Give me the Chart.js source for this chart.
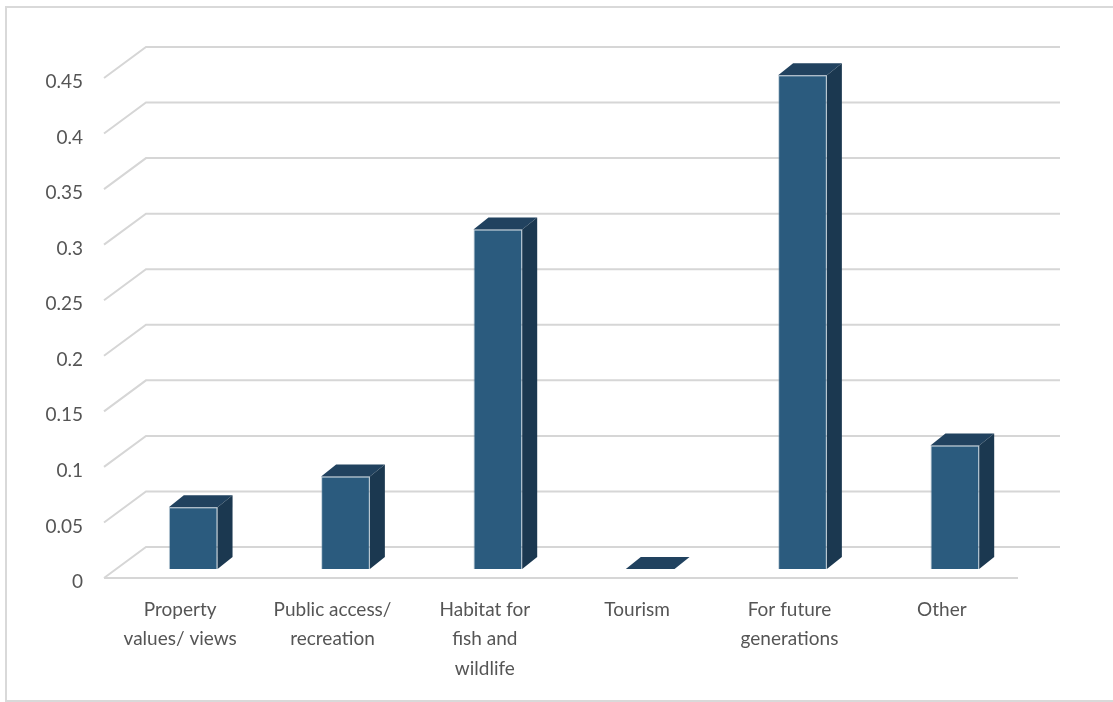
<!DOCTYPE html>
<html>
<head>
<meta charset="utf-8">
<script src="https://cdn.jsdelivr.net/npm/chart.js@4/dist/chart.umd.min.js"></script>
<style>
	html, body { margin: 0; padding: 0; background: #fff; }
	canvas { display: block; }
</style>
</head>
<body>
<canvas id="chart" width="1113" height="702"></canvas>
<script>
// data
const categories = [
	['Property', 'values/ views'],
	['Public access/', 'recreation'],
	['Habitat for', 'fish and', 'wildlife'],
	['Tourism'],
	['For future', 'generations'],
	['Other'],
]
const shares = [0.0556, 0.0833, 0.3056, 0, 0.4444, 0.1111]
const yTicks = ['0', '0.05', '0.1', '0.15', '0.2', '0.25', '0.3', '0.35', '0.4', '0.45']

// 3d look
const wallDepth = { dx: 42, dy: -31 }
const barShift = { dx: 13, dy: -9 }
const barDepth = { dx: 15, dy: -12 }
const gridColor = '#d6d6d6'

const frame = {
	id: 'frame',
	beforeDraw(chart) {
		const ctx = chart.ctx
		ctx.save()
		ctx.strokeStyle = '#d9d9d9'
		ctx.lineWidth = 2
		ctx.beginPath()
		ctx.moveTo(1113, 7)
		ctx.lineTo(6, 7)
		ctx.lineTo(6, 701)
		ctx.lineTo(1113, 701)
		ctx.stroke()
		ctx.restore()
	},
}

const walls = {
	id: 'walls',
	beforeDatasetsDraw(chart) {
		const ctx = chart.ctx
		const area = chart.chartArea
		const y = chart.scales.y
		ctx.save()
		ctx.strokeStyle = gridColor
		ctx.lineWidth = 2
		y.ticks.forEach((t) => {
			const py = y.getPixelForValue(t.value)
			ctx.beginPath()
			ctx.moveTo(area.left, py)
			ctx.lineTo(area.left + wallDepth.dx, py + wallDepth.dy)
			ctx.lineTo(area.right + wallDepth.dx, py + wallDepth.dy)
			ctx.stroke()
		})
		ctx.beginPath()
		ctx.moveTo(area.left, area.bottom)
		ctx.lineTo(area.right, area.bottom)
		ctx.stroke()
		ctx.restore()
		ctx.save()
		ctx.translate(barShift.dx, barShift.dy)
	},
	afterDatasetsDraw(chart) {
		const ctx = chart.ctx
		const meta = chart.getDatasetMeta(0)
		meta.data.forEach((bar) => {
			const l = bar.x - bar.width / 2
			const r = bar.x + bar.width / 2
			const t = bar.y
			const b = bar.base
			ctx.fillStyle = '#21425f'
			ctx.beginPath()
			ctx.moveTo(l, t)
			ctx.lineTo(r, t)
			ctx.lineTo(r + barDepth.dx, t + barDepth.dy)
			ctx.lineTo(l + barDepth.dx, t + barDepth.dy)
			ctx.closePath()
			ctx.fill()
			if (b - t > 0.5) {
				ctx.fillStyle = '#1b3850'
				ctx.beginPath()
				ctx.moveTo(r, t)
				ctx.lineTo(r + barDepth.dx, t + barDepth.dy)
				ctx.lineTo(r + barDepth.dx, b + barDepth.dy)
				ctx.lineTo(r, b)
				ctx.closePath()
				ctx.fill()
			}
		})
		ctx.restore()
	},
}

const config = {
	type: 'bar',
	data: {
		labels: categories,
		datasets: [{
			data: shares,
			backgroundColor: '#2b5b7e',
			borderColor: 'rgba(120, 150, 175, 0.45)',
			borderWidth: 1,
			categoryPercentage: 1,
			barPercentage: 0.32,
			clip: false,
		}],
	},
	options: {
		responsive: false,
		animation: false,
		events: [],
		layout: {
			padding: { top: 78, right: 95, left: 0, bottom: 0 },
		},
		plugins: {
			legend: { display: false },
			tooltip: { enabled: false },
		},
		scales: {
			x: {
				grid: { display: false, drawTicks: false },
				border: { display: false },
				ticks: {
					color: '#555555',
					font: { family: 'Lato', size: 19, lineHeight: 1.55 },
					padding: 17,
					maxRotation: 0,
					autoSkip: false,
				},
				afterFit(scale) { scale.height = 124 },
			},
			y: {
				min: 0,
				max: 0.45,
				grid: { display: false, drawTicks: false },
				border: { display: false },
				ticks: {
					stepSize: 0.05,
					color: '#555555',
					font: { family: 'Lato', size: 19 },
					padding: 21,
					labelOffset: 4,
					callback: (v, i) => yTicks[i],
				},
				afterFit(scale) { scale.width = 104 },
			},
		},
	},
	plugins: [frame, walls],
}

new Chart(document.getElementById('chart').getContext('2d'), config)
</script>
</body>
</html>
